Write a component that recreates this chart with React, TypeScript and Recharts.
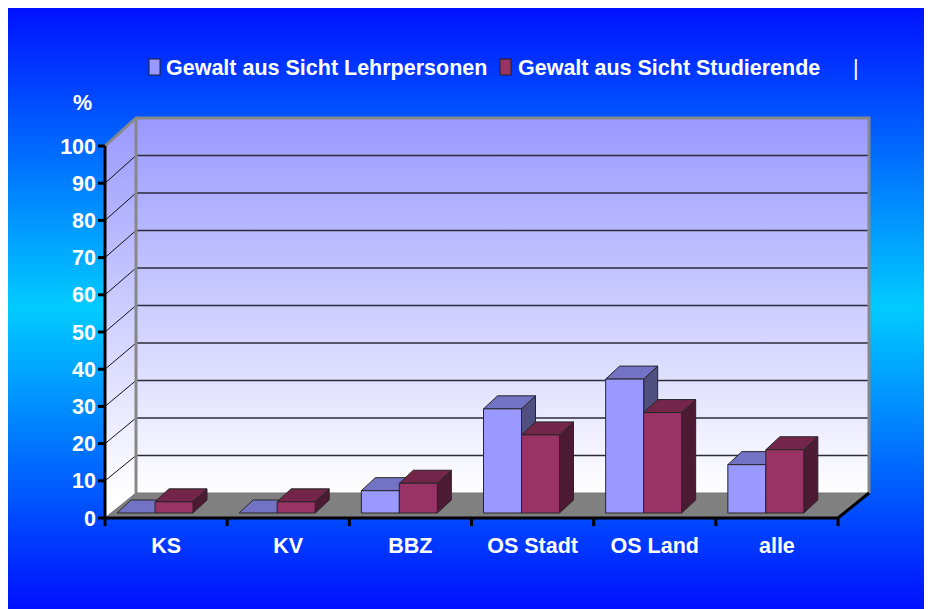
import { BarChart, Bar, XAxis, YAxis } from 'recharts';

const categories = ['KS', 'KV', 'BBZ', 'OS Stadt', 'OS Land', 'alle'];
const lehrpersonen = [0, 0, 6, 28, 36, 13];
const studierende = [3, 3, 8, 21, 27, 17];
const yTicks = [0, 10, 20, 30, 40, 50, 60, 70, 80, 90, 100];
const seriesNames = ['Gewalt aus Sicht Lehrpersonen', 'Gewalt aus Sicht Studierende'];

const data = categories.map((name, i) => ({
  name,
  lehr: lehrpersonen[i],
  stud: studierende[i],
}));

const W = 925;
const H = 603;
const FONT = '"Liberation Sans", Arial, sans-serif';
const FS = 21.5;

// plot box (front plane) and 3D depth of the walls
const left = 98;
const right = 831;
const top = 140;
const bottom = 512;
const depthX = 31;
const depthY = 25;
const backTop = top - 28;
const backBottom = bottom - depthY;

const colors = {
  lehr: { front: '#9999ff', top: '#7373c6', side: '#4f4f80' },
  stud: { front: '#993366', top: '#73264a', side: '#4d1a33' },
};

function Bar3D(props: any) {
  const { x, y, width, height, c } = props;
  // bars stand half way into the floor
  const fx = x - 11;
  const fy = y - 5;
  const h = Math.max(height, 0);
  const b = fy + h;
  const d = 14;
  const e = 13;
  return (
    <g stroke="#262626" strokeWidth={1} strokeLinejoin="round">
      <polygon
        points={`${fx + width},${fy} ${fx + width + d},${fy - e} ${fx + width + d},${b - e} ${fx + width},${b}`}
        fill={c.side}
      />
      <polygon
        points={`${fx},${fy} ${fx + d},${fy - e} ${fx + width + d},${fy - e} ${fx + width},${fy}`}
        fill={c.top}
      />
      {h > 0 && <rect x={fx} y={fy} width={width} height={h} fill={c.front} />}
    </g>
  );
}

function CategoryTick({ x, y, payload }: any) {
  return (
    <text x={x} y={y + 35} textAnchor="middle" fill="#fff" fontSize={FS} fontWeight="bold" fontFamily={FONT}>
      {payload.value}
    </text>
  );
}

function Walls() {
  const band = (right - left) / categories.length;
  const frontY = (v: number) => bottom - ((bottom - top) * v) / 100;
  const backY = (v: number) => backBottom - ((backBottom - backTop) * v) / 100;
  return (
    <svg width={W} height={H} style={{ position: 'absolute', left: 0, top: 0 }}>
      <defs>
        <linearGradient id="wallGrad" gradientUnits="userSpaceOnUse" x1="0" y1={backTop} x2="0" y2={backBottom}>
          <stop offset="0%" stopColor="#9999ff" />
          <stop offset="100%" stopColor="#ffffff" />
        </linearGradient>
      </defs>

      {/* side wall */}
      <polygon
        points={`${left},${top} ${left + depthX},${backTop} ${left + depthX},${backBottom} ${left},${bottom}`}
        fill="url(#wallGrad)"
      />
      {/* back wall */}
      <rect x={left + depthX} y={backTop} width={right - left} height={backBottom - backTop} fill="url(#wallGrad)" />

      {yTicks.slice(1).map((v) => (
        <g key={v}>
          <line x1={left} y1={frontY(v)} x2={left + depthX} y2={backY(v)} stroke="#111" strokeWidth={1} />
          <line x1={left + depthX} y1={backY(v)} x2={right + depthX} y2={backY(v)} stroke="#2a2a3a" strokeWidth={1.5} />
        </g>
      ))}

      {/* wall borders */}
      <polyline
        points={`${left},${top} ${left + depthX},${backTop} ${right + depthX},${backTop} ${right + depthX},${backBottom}`}
        fill="none"
        stroke="#888"
        strokeWidth={3}
      />
      <line x1={left + depthX} y1={backTop} x2={left + depthX} y2={backBottom} stroke="#888" strokeWidth={3} />

      {/* floor */}
      <polygon
        points={`${left},${bottom} ${left + depthX},${backBottom} ${right + depthX},${backBottom} ${right},${bottom}`}
        fill="#808080"
        stroke="#777"
        strokeWidth={1}
      />
      <polyline
        points={`${left},${bottom} ${right},${bottom} ${right + depthX},${backBottom}`}
        fill="none"
        stroke="#000"
        strokeWidth={3}
      />
      {categories.map((_, i) => (
        <line key={i} x1={left + i * band} y1={bottom} x2={left + i * band} y2={bottom + 8} stroke="#000" strokeWidth={3} />
      ))}
      <line x1={right} y1={bottom} x2={right} y2={bottom + 8} stroke="#000" strokeWidth={3} />

      {/* legend */}
      <g fontFamily={FONT} fontSize={FS} fontWeight="bold" fill="#fff">
        <rect x={142} y={53} width={11} height={16} fill={colors.lehr.front} stroke="#222" strokeWidth={1} />
        <text x={159} y={69}>{seriesNames[0]}</text>
        <rect x={493} y={53} width={11} height={16} fill={colors.stud.front} stroke="#222" strokeWidth={1} />
        <text x={511} y={69}>{seriesNames[1]}</text>
        <text x={846} y={69} fontWeight="normal">|</text>
        <text x={66} y={104}>%</text>
      </g>
    </svg>
  );
}

export default function App() {
  return (
    <div
      style={{
        position: 'relative',
        width: W,
        height: H,
        margin: '-2px 0 0 -1px',
        background: 'linear-gradient(to bottom, #0010ff 0%, #00ccff 50%, #0010ff 100%)',
      }}
    >
      <Walls />
      <div style={{ position: 'absolute', left: 0, top: 0 }}>
        <BarChart
          width={W}
          height={H}
          data={data}
          margin={{ top, right: W - right, bottom: H - bottom - 40, left: left - 60 }}
          barGap={0}
          barSize={38}
        >
          <XAxis dataKey="name" axisLine={false} tickLine={false} tickSize={0} tickMargin={0} height={40} tick={<CategoryTick />} interval={0} />
          <YAxis
            domain={[0, 100]}
            ticks={yTicks}
            interval={0}
            width={60}
            axisLine={{ stroke: '#000', strokeWidth: 3 }}
            tickLine={{ stroke: '#000', strokeWidth: 3 }}
            tickSize={7}
            tickMargin={2}
            tick={{ fill: '#fff', fontSize: FS, fontWeight: 'bold', fontFamily: FONT }}
          />
          <Bar dataKey="lehr" isAnimationActive={false} shape={(p: any) => <Bar3D {...p} c={colors.lehr} />} />
          <Bar dataKey="stud" isAnimationActive={false} shape={(p: any) => <Bar3D {...p} c={colors.stud} />} />
        </BarChart>
      </div>
    </div>
  );
}
